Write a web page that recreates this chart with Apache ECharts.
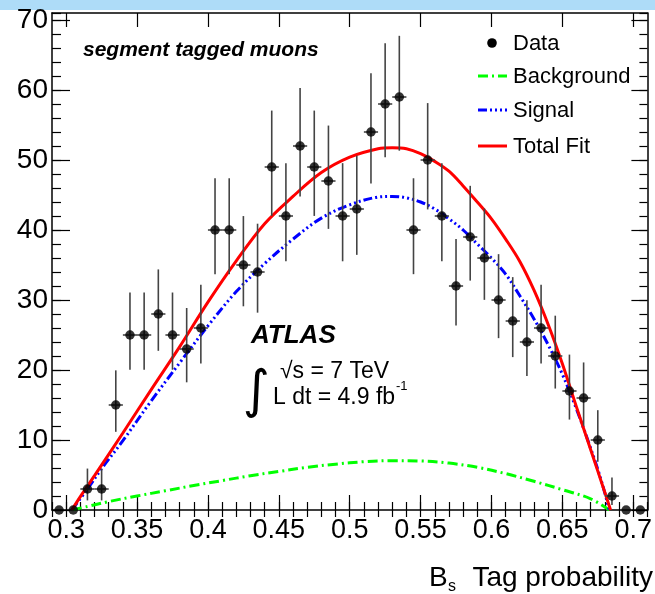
<!DOCTYPE html>
<html>
<head>
<meta charset="utf-8">
<script src="https://cdn.jsdelivr.net/npm/echarts@6/dist/echarts.min.js"></script>
<style>html,body{margin:0;padding:0;background:#fff;}#c{width:655px;height:594px;}</style>
</head>
<body>
<div id="c"></div>
<script>
// ---- data ----
var binCenters = [0.295,0.305,0.315,0.325,0.335,0.345,0.355,0.365,0.375,0.385,0.395,0.405,0.415,0.425,0.435,0.445,0.455,0.465,0.475,0.485,0.495,0.505,0.515,0.525,0.535,0.545,0.555,0.565,0.575,0.585,0.595,0.605,0.615,0.625,0.635,0.645,0.655,0.665,0.675,0.685,0.695,0.705];
var counts = [0,0,3,3,15,25,25,28,25,23,26,40,40,35,34,49,42,52,49,47,42,43,54,58,59,40,50,42,32,39,36,30,27,24,26,22,17,16,10,2,0,0];
var errLow = [0,0,1.63,1.63,3.83,4.96,4.96,5.26,4.96,4.76,5.06,6.31,6.31,5.90,5.81,6.99,6.47,7.20,6.99,6.84,6.47,6.55,7.34,7.61,7.67,6.31,7.06,6.47,5.63,6.23,5.98,5.45,5.16,4.86,5.06,4.65,4.08,3.96,3.11,1.29,0,0];
var errHigh = [0,0,2.92,2.92,4.95,6.07,6.07,6.37,6.07,5.86,6.17,7.39,7.39,6.99,6.90,8.06,7.55,8.27,8.06,7.92,7.55,7.63,8.41,8.68,8.74,7.39,8.13,7.55,6.73,7.31,7.07,6.55,6.27,5.97,6.17,5.76,5.20,5.08,4.26,2.64,0,0];
var binHalfWidth = 0.005;

var bkgX = [0.304,0.315,0.33,0.35,0.37,0.39,0.41,0.43,0.45,0.47,0.49,0.51,0.53,0.55,0.57,0.59,0.61,0.63,0.65,0.67,0.683];
var bkgY = [0,0.5,1.2,2.0,2.75,3.5,4.2,4.9,5.5,6.1,6.55,6.9,7.05,7.0,6.7,6.1,5.2,4.1,2.9,1.6,0];

var sigX = [0.304,0.315,0.325,0.34,0.36,0.38,0.40,0.42,0.44,0.46,0.48,0.50,0.52,0.53,0.54,0.55,0.56,0.57,0.58,0.59,0.60,0.61,0.62,0.63,0.64,0.65,0.66,0.67,0.675,0.68,0.683];
var sigY = [0,3.0,5.9,9.9,15.6,21.0,26.3,31.2,35.2,38.7,41.7,43.6,44.7,44.8,44.6,44.0,43.0,41.6,40.0,38.0,36.0,33.7,30.6,27.3,23.6,19.4,14.4,8.8,5.8,2.4,0];

var totX = [0.304,0.31,0.32,0.34,0.36,0.38,0.40,0.42,0.44,0.46,0.48,0.50,0.52,0.53,0.54,0.55,0.56,0.57,0.58,0.59,0.60,0.61,0.62,0.63,0.64,0.65,0.66,0.67,0.68,0.684];
var totY = [0,1.9,4.9,11.0,17.2,23.3,29.7,35.6,40.9,44.8,48.2,50.4,51.6,51.75,51.6,50.9,49.8,48.4,46.3,44.0,41.6,38.7,35.5,31.4,26.5,20.9,14.7,8.6,2.5,0];

var xMajorTicks = [0.3,0.35,0.4,0.45,0.5,0.55,0.6,0.65,0.7];
var yMajorTicks = [0,10,20,30,40,50,60,70];

// ---- chart ----
function zip(a,b){var r=[];for(var i=0;i<a.length;i++)r.push([a[i],b[i]]);return r;}
var pts = zip(binCenters, counts);
var errData = [];
for (var i=0;i<binCenters.length;i++) errData.push([binCenters[i],counts[i],errLow[i],errHigh[i]]);

var FONT = '"Liberation Sans", Arial, Helvetica, sans-serif';
var frameLine = {show:true, onZero:false, lineStyle:{color:'#000', width:1.5}};
var tickLine = {color:'#000', width:1.2};

function xAx(pos, major, len, labels){
  var a = {type:'value', min:0.29, max:0.71, position:pos, gridIndex:0,
    axisLine: major ? frameLine : {show:false},
    splitLine:{show:false},
    axisTick:{show:true, inside:true, length:len, lineStyle:tickLine},
    axisLabel:{show:false}};
  if (major){ a.axisTick.customValues = xMajorTicks; }
  else { a.interval = 0.01; }
  if (labels){
    a.axisLabel = {show:true, customValues:xMajorTicks, color:'#000', fontSize:27, fontFamily:FONT, margin:7,
      formatter:function(v){return String(+v.toFixed(2));}};
  }
  return a;
}
function yAx(pos, major, len, labels){
  var a = {type:'value', min:0, max:71, position:pos, gridIndex:0,
    axisLine: major ? frameLine : {show:false},
    splitLine:{show:false},
    axisTick:{show:true, inside:true, length:len, lineStyle:tickLine},
    axisLabel:{show:false}};
  if (major){ a.axisTick.customValues = yMajorTicks; }
  else { a.interval = 2; }
  if (labels){
    a.axisLabel = {show:true, customValues:yMajorTicks, color:'#000', fontSize:28, fontFamily:FONT, margin:4,
      padding:[8,0,0,0]};
  }
  return a;
}

var chart = echarts.init(document.getElementById('c'), null, {renderer:'canvas'});
var curveSmooth = 0.35;
var option = {
  backgroundColor:'#fff',
  animation:false,
  grid:{left:52, right:1, top:13, bottom:84},
  xAxis:[ xAx('bottom', true, 15, true), xAx('bottom', false, 8, false), xAx('top', true, 14, false), xAx('top', false, 7, false) ],
  yAxis:[ yAx('left', true, 18, true), yAx('left', false, 9, false), yAx('right', true, 16, false), yAx('right', false, 8, false) ],
  series:[
    {type:'line', name:'Background', xAxisIndex:0, yAxisIndex:0, data:zip(bkgX,bkgY), smooth:curveSmooth, showSymbol:false,
      lineStyle:{color:'#00ff00', width:3, type:[10,4,2,4]}, z:3},
    {type:'line', name:'Signal', xAxisIndex:0, yAxisIndex:0, data:zip(sigX,sigY), smooth:curveSmooth, showSymbol:false,
      lineStyle:{color:'#0000ff', width:3, type:[9,3,2,3,2,3,2,3]}, z:3},
    {type:'line', name:'Total Fit', xAxisIndex:0, yAxisIndex:0, data:zip(totX,totY), smooth:curveSmooth, showSymbol:false,
      lineStyle:{color:'#ff0000', width:3}, z:3},
    {type:'custom', name:'err', xAxisIndex:0, yAxisIndex:0, data:errData, encode:{x:0,y:1}, z:4,
      renderItem:function(params, api){
        var x=api.value(0), y=api.value(1), lo=api.value(2), hi=api.value(3);
        if (y<=0) return {type:'group', children:[]};
        var a=api.coord([x,y-lo]), b=api.coord([x,y+hi]);
        var c=api.coord([x-binHalfWidth,y]), d=api.coord([x+binHalfWidth,y]);
        var st={stroke:'#444', lineWidth:1.6};
        return {type:'group', children:[
          {type:'line', shape:{x1:a[0],y1:a[1],x2:b[0],y2:b[1]}, style:st},
          {type:'line', shape:{x1:c[0],y1:c[1],x2:d[0],y2:d[1]}, style:st}
        ]};
      }},
    {type:'scatter', name:'Data', xAxisIndex:0, yAxisIndex:0, data:pts, symbol:'circle', symbolSize:9.5,
      itemStyle:{color:'#000'}, z:5, clip:false}
  ],
  graphic:[
    {type:'rect', shape:{x:0,y:0,width:655,height:10}, style:{fill:'#aedcf8'}, z:0},
    {type:'text', style:{text:'segment tagged muons', x:83, y:50, textVerticalAlign:'middle', font:'italic bold 21px '+FONT, fill:'#000'}},
    {type:'text', style:{text:'ATLAS', x:251, y:336, textVerticalAlign:'middle', font:'italic bold 26px '+FONT, fill:'#000'}},
    {type:'text', style:{text:'\u222B', x:256, y:393, textAlign:'center', textVerticalAlign:'middle', font:'52px "DejaVu Sans"', fill:'#000'}},
    {type:'text', style:{text:'\u221As = 7 TeV', x:280, y:372, textVerticalAlign:'middle', font:'23px '+FONT, fill:'#000'}},
    {type:'text', style:{text:'L dt = 4.9 fb', x:273, y:398, textVerticalAlign:'middle', font:'23px '+FONT, fill:'#000'}},
    {type:'text', style:{text:'-1', x:396, y:386, textVerticalAlign:'middle', font:'13px '+FONT, fill:'#000'}},
    // legend
    {type:'circle', shape:{cx:492, cy:43, r:4.8}, style:{fill:'#000'}},
    {type:'text', style:{text:'Data', x:513, y:44, textVerticalAlign:'middle', font:'22px '+FONT, fill:'#000'}},
    {type:'line', shape:{x1:478,y1:76,x2:507,y2:76}, style:{stroke:'#00ff00', lineWidth:3, lineDash:[10,4,2,4]}},
    {type:'text', style:{text:'Background', x:513, y:77, textVerticalAlign:'middle', font:'22px '+FONT, fill:'#000'}},
    {type:'line', shape:{x1:478,y1:110,x2:507,y2:110}, style:{stroke:'#0000ff', lineWidth:3, lineDash:[9,3,2,3,2,3,2,3]}},
    {type:'text', style:{text:'Signal', x:513, y:111, textVerticalAlign:'middle', font:'22px '+FONT, fill:'#000'}},
    {type:'line', shape:{x1:478,y1:146,x2:507,y2:146}, style:{stroke:'#ff0000', lineWidth:3}},
    {type:'text', style:{text:'Total Fit', x:513, y:147, textVerticalAlign:'middle', font:'22px '+FONT, fill:'#000'}},
    // axis title
    {type:'text', style:{text:'Tag probability', x:653, y:578, textAlign:'right', textVerticalAlign:'middle', font:'28px '+FONT, fill:'#000'}},
    {type:'text', style:{text:'B', x:429, y:578, textVerticalAlign:'middle', font:'28px '+FONT, fill:'#000'}},
    {type:'text', style:{text:'s', x:448, y:587, textVerticalAlign:'middle', font:'16px '+FONT, fill:'#000'}}
  ]
};
chart.setOption(option);
</script>
</body>
</html>
